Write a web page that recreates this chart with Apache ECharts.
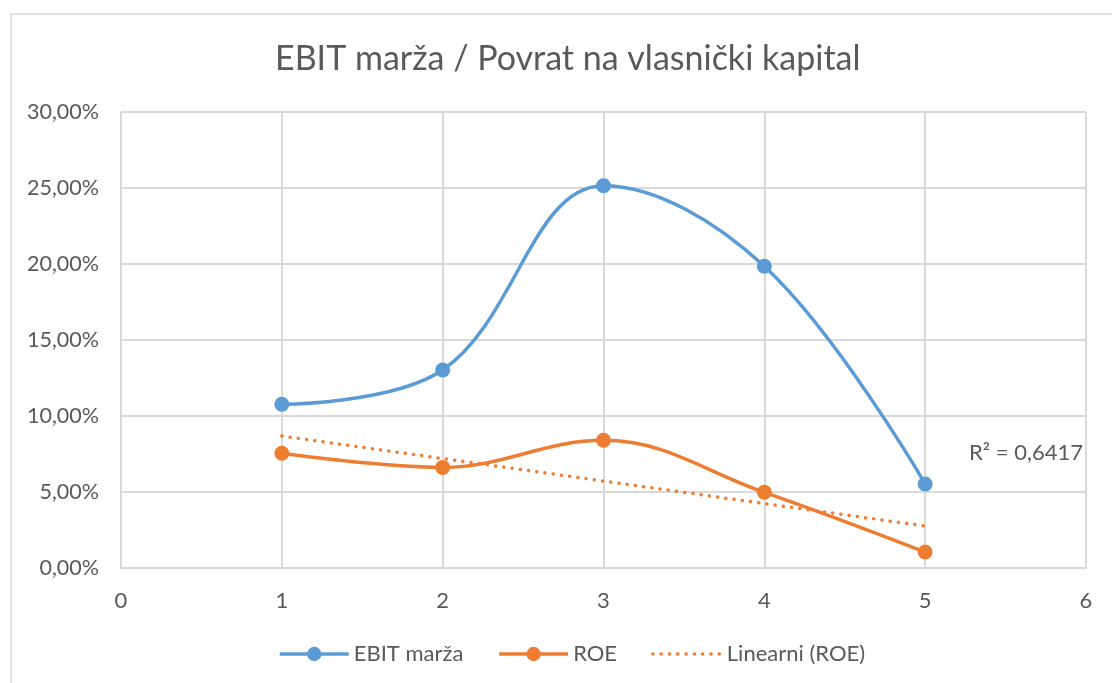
<!DOCTYPE html>
<html>
<head>
<meta charset="utf-8">
<script src="https://cdn.jsdelivr.net/npm/echarts@6/dist/echarts.min.js"></script>
<style>
html,body{margin:0;padding:0;background:#fff;}
#chart{width:1112px;height:683px;}
</style>
</head>
<body>
<div id="chart"></div>
<script>
// Data
const xValues = [1, 2, 3, 4, 5];
const ebitMarza = [10.77, 13.03, 25.15, 19.85, 5.53];
const roe = [7.55, 6.62, 8.40, 4.98, 1.05];
// Linear trendline endpoints for ROE, as drawn in the reference
const trendX = [1, 5];
const trendY = [8.68, 2.76];
const r2Label = 'R² = 0,6417';
const yTicks = [0, 5, 10, 15, 20, 25, 30];

const FONT = 'Lato';
const TXT = '#595959';
const GRID = '#d9d9d9';
const BLUE = '#5B9BD5';
const ORANGE = '#ED7D31';

const chart = echarts.init(document.getElementById('chart'));
chart.setOption({
  animation: false,
  backgroundColor: '#fff',
  textStyle: { fontFamily: FONT },
  graphic: [
    {
      type: 'rect', silent: true, z: -10,
      shape: { x: 11, y: 14, width: 1300, height: 1000 },
      style: { fill: 'none', stroke: GRID, lineWidth: 1.5 }
    },
    {
      type: 'text', silent: true, z: 10,
      x: 1026, y: 453,
      style: {
        text: r2Label, fill: TXT, font: '22px Lato',
        align: 'center', verticalAlign: 'middle'
      }
    }
  ],
  title: {
    text: 'EBIT marža / Povrat na vlasnički kapital',
    left: 270, top: 37,
    textStyle: { fontFamily: FONT, fontSize: 34, fontWeight: 'normal', color: TXT }
  },
  legend: {
    bottom: 13, left: 273,
    itemWidth: 69, itemHeight: 18, itemGap: 34,
    lineStyle: { width: 3.5 },
    textStyle: { fontFamily: FONT, fontSize: 22, color: TXT },
    data: [
      { name: 'EBIT marža' },
      { name: 'ROE' },
      { name: 'Linearni (ROE)', itemStyle: { opacity: 0 } }
    ]
  },
  grid: { left: 121, right: 26, top: 112, bottom: 115 },
  xAxis: {
    type: 'value', min: 0, max: 6, interval: 1,
    axisLine: { show: true, lineStyle: { color: GRID, width: 2 } },
    axisTick: { show: false },
    axisLabel: { color: TXT, fontFamily: FONT, fontSize: 22, margin: 22 },
    splitLine: { show: true, lineStyle: { color: GRID, width: 2 } }
  },
  yAxis: {
    type: 'value', min: yTicks[0], max: yTicks[yTicks.length - 1], interval: 5,
    axisLine: { show: false },
    axisTick: { show: false },
    axisLabel: {
      color: TXT, fontFamily: FONT, fontSize: 21.5, margin: 22,
      formatter: v => v.toFixed(2).replace('.', ',') + '%'
    },
    splitLine: { show: true, lineStyle: { color: GRID, width: 2 } }
  },
  series: [
    {
      name: 'EBIT marža', type: 'line', smooth: 0.38,
      data: xValues.map((x, i) => [x, ebitMarza[i]]),
      symbol: 'circle', symbolSize: 15,
      lineStyle: { color: BLUE, width: 3.5 },
      itemStyle: { color: BLUE },
      z: 3
    },
    {
      name: 'ROE', type: 'line', smooth: 0.38,
      data: xValues.map((x, i) => [x, roe[i]]),
      symbol: 'circle', symbolSize: 15,
      lineStyle: { color: ORANGE, width: 3.5 },
      itemStyle: { color: ORANGE },
      z: 3
    },
    {
      name: 'Linearni (ROE)', type: 'line',
      data: trendX.map((x, i) => [x, trendY[i]]),
      symbol: 'none',
      lineStyle: { color: ORANGE, width: 3.5, type: [0.1, 8.2], cap: 'round' },
      itemStyle: { color: ORANGE },
      z: 2
    }
  ]
});
</script>
</body>
</html>
